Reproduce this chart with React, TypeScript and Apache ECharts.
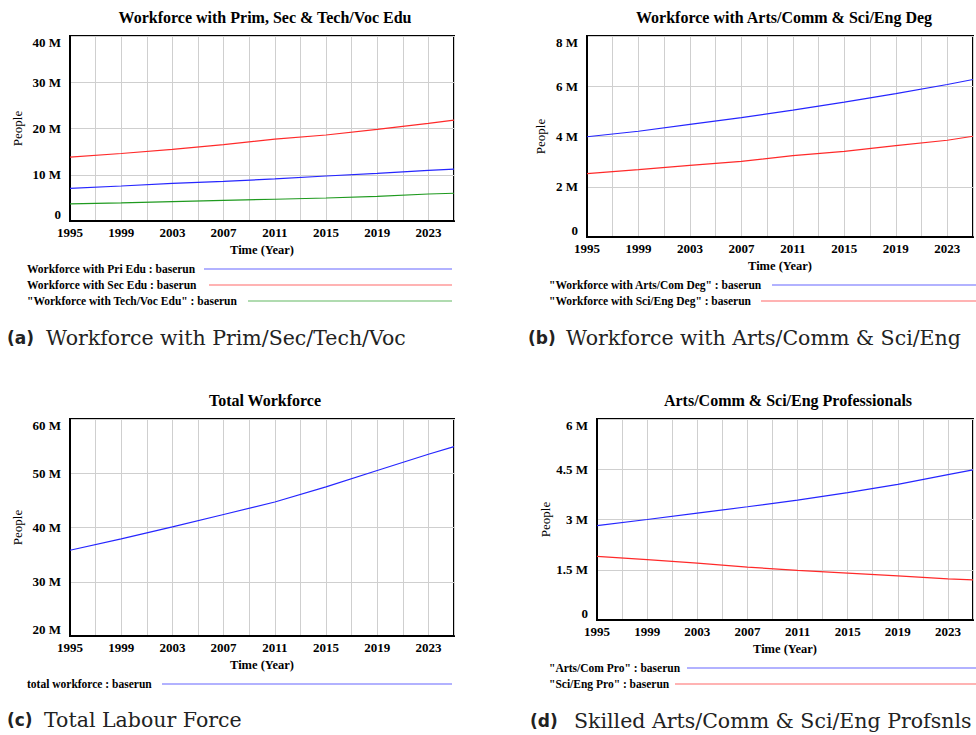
import React, { useEffect, useRef } from "react";
import * as echarts from "echarts";

// Values in millions of people
const years = [1995, 1999, 2003, 2007, 2011, 2015, 2019, 2023, 2025];
const priEdu = [7.07, 7.57, 8.15, 8.58, 9.1, 9.73, 10.3, 10.96, 11.2];
const secEdu = [13.8, 14.6, 15.5, 16.5, 17.7, 18.6, 19.8, 21.1, 21.8];
const techVocEdu = [3.7, 3.9, 4.17, 4.47, 4.7, 4.97, 5.34, 5.84, 6.0];
const artsComDeg = [3.99, 4.21, 4.48, 4.75, 5.05, 5.37, 5.71, 6.07, 6.27];
const sciEngDeg = [2.52, 2.68, 2.85, 3.01, 3.24, 3.41, 3.64, 3.85, 4.01];
const totalWorkforce = [35.8, 37.9, 40.1, 42.4, 44.7, 47.5, 50.5, 53.5, 54.9];
const artsComPro = [2.82, 3.0, 3.19, 3.38, 3.58, 3.8, 4.05, 4.34, 4.48];
const sciEngPro = [1.9, 1.8, 1.7, 1.58, 1.48, 1.4, 1.32, 1.23, 1.2];

const panelTitles = [
  "Workforce with Prim, Sec & Tech/Voc Edu",
  "Workforce with Arts/Comm & Sci/Eng Deg",
  "Total Workforce",
  "Arts/Comm & Sci/Eng Professionals",
];
const captionTags = ["(a)", "(b)", "(c)", "(d)"];
const captionTexts = [
  "Workforce with Prim/Sec/Tech/Voc",
  "Workforce with Arts/Comm & Sci/Eng",
  "Total Labour Force",
  "Skilled Arts/Comm & Sci/Eng Profsnls",
];
const legendNames = [
  ["Workforce with Pri Edu : baserun", "Workforce with Sec Edu : baserun", "\"Workforce with Tech/Voc Edu\" : baserun"],
  ["\"Workforce with Arts/Com Deg\" : baserun", "\"Workforce with Sci/Eng Deg\" : baserun"],
  ["total workforce : baserun"],
  ["\"Arts/Com Pro\" : baserun", "\"Sci/Eng Pro\" : baserun"],
];
const yRanges = [
  { min: 0, max: 40, interval: 10 },
  { min: 0, max: 8, interval: 2 },
  { min: 20, max: 60, interval: 10 },
  { min: 0, max: 6, interval: 1.5 },
];

const BLUE = "#2626ff";
const RED = "#ff2a2a";
const GREEN = "#1f9a1f";
const SERIF = "Liberation Serif";

export default function App() {
  const ref = useRef<HTMLDivElement>(null);
  useEffect(() => {
    const chart = echarts.init(ref.current!, null, { renderer: "svg" });

    const grids = [
      { left: 70, top: 36, width: 384, height: 185 },
      { left: 587, top: 36, width: 390, height: 201 },
      { left: 70, top: 419, width: 384, height: 217 },
      { left: 597, top: 419, width: 381, height: 201 },
    ];
    const titlePos = [
      { x: 265, y: 9 },
      { x: 784, y: 9 },
      { x: 265, y: 392 },
      { x: 788, y: 392 },
    ];
    const pair = (arr: number[]) => years.map((y, i) => [y, arr[i]]);
    const seriesDefs = [
      { name: legendNames[0][0], data: priEdu, color: BLUE, idx: 0 },
      { name: legendNames[0][1], data: secEdu, color: RED, idx: 0 },
      { name: legendNames[0][2], data: techVocEdu, color: GREEN, idx: 0 },
      { name: legendNames[1][0], data: artsComDeg, color: BLUE, idx: 1 },
      { name: legendNames[1][1], data: sciEngDeg, color: RED, idx: 1 },
      { name: legendNames[2][0], data: totalWorkforce, color: BLUE, idx: 2 },
      { name: legendNames[3][0], data: artsComPro, color: BLUE, idx: 3 },
      { name: legendNames[3][1], data: sciEngPro, color: RED, idx: 3 },
    ];

    // legend layout: [textX, rowY, lineStartX, lineEndX]
    const legendLayout = [
      [[27, 269, 204, 452], [27, 285, 209, 452], [27, 301, 248, 452]],
      [[549, 285, 772, 976], [549, 301, 761, 976]],
      [[27, 684, 162, 452]],
      [[549, 668, 687, 976], [549, 684, 675, 976]],
    ];
    const legendColors = [[BLUE, RED, GREEN], [BLUE, RED], [BLUE], [BLUE, RED]];

    const graphic: any[] = [];
    legendLayout.forEach((rows, p) => {
      rows.forEach((r, k) => {
        graphic.push({
          type: "text",
          x: r[0],
          y: r[1],
          style: {
            text: legendNames[p][k],
            fontFamily: SERIF,
            fontWeight: "bold",
            fontSize: 11.5,
            fill: "#000",
            verticalAlign: "middle",
            align: "left",
          },
        });
        graphic.push({
          type: "line",
          shape: { x1: r[2], y1: r[1], x2: r[3], y2: r[1] },
          style: { stroke: legendColors[p][k], lineWidth: 1.2, opacity: 0.7 },
        });
      });
    });
    // [tagX, textX, y]
    const capPos = [
      [7, 46, 338],
      [528, 566, 338],
      [7, 44, 720],
      [530, 574, 721],
    ];
    captionTags.forEach((tag, i) => {
      graphic.push({
        type: "text",
        x: capPos[i][0],
        y: capPos[i][2],
        style: {
          text: tag,
          fontFamily: "DejaVu Sans",
          fontWeight: "bold",
          fontSize: 17,
          fill: "#222",
          verticalAlign: "middle",
          align: "left",
        },
      });
      graphic.push({
        type: "text",
        x: capPos[i][1],
        y: capPos[i][2],
        style: {
          text: captionTexts[i],
          fontFamily: "DejaVu Serif",
          fontWeight: "normal",
          fontSize: 20.5,
          fill: "#222",
          verticalAlign: "middle",
          align: "left",
        },
      });
    });

    const fmtY = (v: number) => (v === 0 ? "0" : `${v} M`);

    const option: any = {
      animation: false,
      backgroundColor: "#fff",
      title: panelTitles.map((t, i) => ({
        text: t,
        left: titlePos[i].x,
        top: titlePos[i].y,
        textAlign: "center",
        padding: 0,
        textStyle: { fontFamily: SERIF, fontWeight: "bold", fontSize: 16, color: "#000" },
      })),
      grid: grids.map((g) => ({
        ...g,
        show: true,
        borderColor: "#000",
        borderWidth: 2,
        backgroundColor: "transparent",
      })),
      xAxis: grids.map((_, i) => ({
        gridIndex: i,
        type: "value",
        min: 1995,
        max: 2025,
        interval: 2,
        name: "Time (Year)",
        nameLocation: "middle",
        nameGap: 22,
        nameTextStyle: { fontFamily: SERIF, fontWeight: "bold", fontSize: 12.5, color: "#000" },
        axisLine: { show: true, onZero: false, lineStyle: { color: "#000", width: 2 } },
        axisTick: { show: false },
        axisLabel: {
          formatter: (v: number) => ((v - 1995) % 4 === 0 ? String(v) : ""),
          fontFamily: SERIF,
          fontWeight: "bold",
          fontSize: 13,
          color: "#000",
          margin: 5,
        },
        splitLine: { show: true, lineStyle: { color: "#cfcfcf", width: 1 } },
      })),
      yAxis: grids.map((_, i) => ({
        gridIndex: i,
        type: "value",
        min: yRanges[i].min,
        max: yRanges[i].max,
        interval: yRanges[i].interval,
        name: "People",
        nameLocation: "middle",
        nameRotate: 90,
        nameGap: i === 0 || i === 2 ? 46 : 40,
        nameTextStyle: { fontFamily: SERIF, fontSize: 13, color: "#000" },
        axisLine: { show: true, lineStyle: { color: "#000", width: 2 } },
        axisTick: { show: false },
        axisLabel: {
          formatter: fmtY,
          fontFamily: SERIF,
          fontWeight: "bold",
          fontSize: 13,
          color: "#000",
          margin: 9,
          verticalAlignMinLabel: "bottom",
          verticalAlignMaxLabel: "top",
        },
        splitLine: { show: true, lineStyle: { color: "#cfcfcf", width: 1 } },
      })),
      series: seriesDefs.map((s) => ({
        type: "line",
        name: s.name,
        xAxisIndex: s.idx,
        yAxisIndex: s.idx,
        data: pair(s.data),
        showSymbol: false,
        symbol: "none",
        lineStyle: { color: s.color, width: 1.2 },
        itemStyle: { color: s.color },
      })),
      graphic,
    };
    chart.setOption(option);
    return () => chart.dispose();
  }, []);
  return (
    <div
      ref={ref}
      style={{ position: "fixed", left: 0, top: 0, width: 976, height: 735, background: "#fff" }}
    />
  );
}
